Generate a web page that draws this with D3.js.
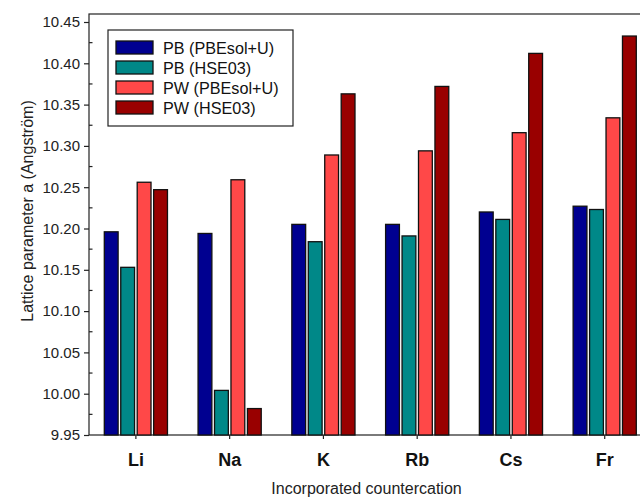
<!DOCTYPE html>
<html>
<head>
<meta charset="utf-8">
<script src="https://cdn.jsdelivr.net/npm/d3@7"></script>
<style>
  html, body { margin: 0; padding: 0; background: #fff; overflow: hidden; }
  svg { display: block; font-family: "Liberation Sans", Arial, sans-serif; }
</style>
</head>
<body>
<svg id="chart" width="640" height="497"></svg>
<script>
// Cations incorporated in the structure
const categories = ["Li", "Na", "K", "Rb", "Cs", "Fr"];
const seriesNames = ["PB (PBEsol+U)", "PB (HSE03)", "PW (PBEsol+U)", "PW (HSE03)"];
const seriesColors = ["#000090", "#008888", "#ff4848", "#990000"];

// Lattice parameter a (Å) for each series, in category order
const pbPbesol = [10.196, 10.194, 10.205, 10.205, 10.220, 10.227];
const pbHse    = [10.153, 10.004, 10.184, 10.191, 10.211, 10.223];
const pwPbesol = [10.256, 10.259, 10.289, 10.294, 10.316, 10.334];
const pwHse    = [10.247, 9.982, 10.363, 10.372, 10.412, 10.433];
const seriesValues = [pbPbesol, pbHse, pwPbesol, pwHse];

const yTicks = [9.95, 10.00, 10.05, 10.10, 10.15, 10.20, 10.25, 10.30, 10.35, 10.40, 10.45];

const svg = d3.select("#chart");
const left = 89, bottom = 435, frameTop = 14, right = 651.6;

const x0 = d3.scaleBand().domain(categories).range([left, right]).padding(0);
const x1 = d3.scaleBand().domain(seriesNames)
  .range([15.3, x0.bandwidth() - 15.3]).paddingInner(0.16).paddingOuter(0);
const y = d3.scaleLinear().domain([9.95, 10.45]).range([bottom, 22]);

// Frame around the plotting area (right side runs past the page edge)
svg.append("rect")
  .attr("x", left).attr("y", frameTop)
  .attr("width", right - left).attr("height", bottom - frameTop)
  .attr("fill", "none").attr("stroke", "#222").attr("stroke-width", 1.2);

// Bars
const rows = categories.map((c, i) => ({ cat: c, vals: seriesNames.map((s, j) => ({ s, j, v: seriesValues[j][i] })) }));
const groups = svg.append("g").selectAll("g").data(rows).join("g")
  .attr("transform", d => `translate(${x0(d.cat)},0)`);
groups.selectAll("rect").data(d => d.vals).join("rect")
  .attr("x", d => x1(d.s))
  .attr("y", d => y(d.v))
  .attr("width", x1.bandwidth())
  .attr("height", d => y(9.95) - y(d.v))
  .attr("fill", d => seriesColors[d.j])
  .attr("stroke", "#111").attr("stroke-width", 1.3);

// Y axis with outward major ticks and inward minor ticks
const yAxis = d3.axisLeft(y).tickValues(yTicks).tickFormat(d3.format(".2f")).tickSize(5).tickPadding(4);
const gy = svg.append("g").attr("transform", `translate(${left},0)`).call(yAxis);
gy.select(".domain").remove();
gy.selectAll(".tick line").attr("stroke", "#222").attr("stroke-width", 1.2);
gy.selectAll(".tick text").attr("font-size", 15).attr("fill", "#222")
  .attr("font-family", "Liberation Sans, Arial, sans-serif");
const minor = d3.range(0, 10).map(i => yTicks[i] + 0.025);
svg.append("g").selectAll("line").data(minor).join("line")
  .attr("x1", left).attr("x2", left + 3.5)
  .attr("y1", d => y(d)).attr("y2", d => y(d))
  .attr("stroke", "#222").attr("stroke-width", 1.2);

// X axis
const xAxis = d3.axisBottom(x0).tickSize(4).tickPadding(14);
const gx = svg.append("g").attr("transform", `translate(0,${bottom})`).call(xAxis);
gx.select(".domain").remove();
gx.selectAll(".tick line").attr("stroke", "#222").attr("stroke-width", 1.2);
gx.selectAll(".tick text").attr("font-size", 18).attr("font-weight", "bold").attr("fill", "#111")
  .attr("font-family", "Liberation Sans, Arial, sans-serif");

// Axis titles
svg.append("text")
  .attr("x", (left + 624) / 2 + 10).attr("y", 494)
  .attr("text-anchor", "middle").attr("font-size", 16).attr("fill", "#222")
  .text("Incorporated countercation");
svg.append("text")
  .attr("transform", "translate(33,211) rotate(-90)")
  .attr("text-anchor", "middle").attr("font-size", 16).attr("fill", "#222")
  .text("Lattice parameter a (Angström)");

// Legend
const legend = svg.append("g");
legend.append("rect")
  .attr("x", 108).attr("y", 30).attr("width", 185).attr("height", 96)
  .attr("fill", "#fff").attr("stroke", "#222").attr("stroke-width", 1.2);
const items = legend.selectAll("g").data(seriesNames).join("g")
  .attr("transform", (d, i) => `translate(116,${41 + i * 20})`);
items.append("rect")
  .attr("width", 37).attr("height", 13)
  .attr("fill", (d, i) => seriesColors[i])
  .attr("stroke", "#111").attr("stroke-width", 1.3);
items.append("text")
  .attr("x", 47).attr("y", 12.5)
  .attr("font-size", 16.2).attr("fill", "#111")
  .text(d => d);
</script>
</body>
</html>
